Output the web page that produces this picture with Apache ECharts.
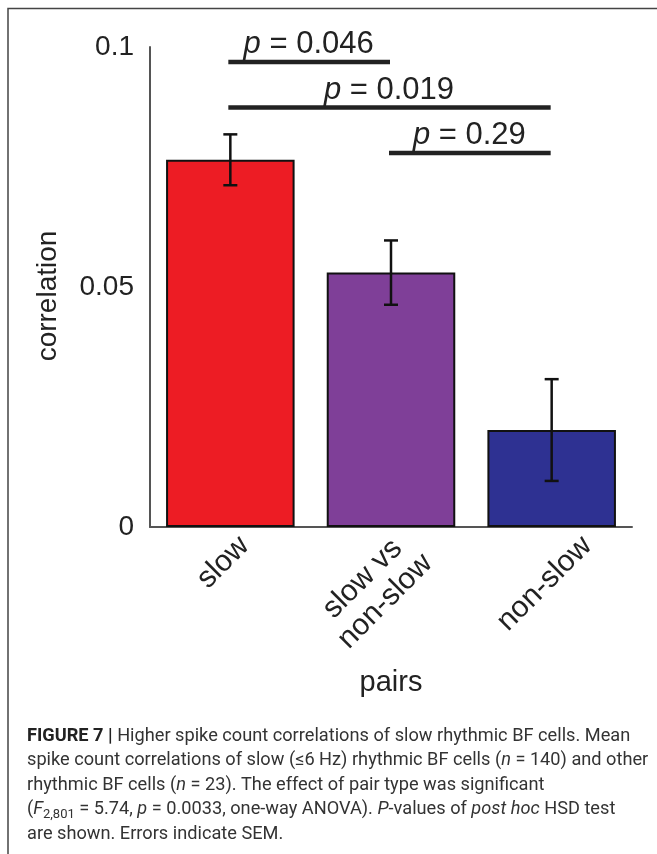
<!DOCTYPE html>
<html>
<head>
<meta charset="utf-8">
<script src="https://cdn.jsdelivr.net/npm/echarts@6/dist/echarts.min.js"></script>
<style>
  html, body { margin: 0; padding: 0; background: #fff; }
  #chart { width: 657px; height: 854px; }
</style>
</head>
<body>
<div id="chart"></div>
<script>
// data
var categories = ["slow", "slow vs\nnon-slow", "non-slow"];
var meanCorr = [0.0765, 0.053, 0.0202];
var semCorr = [0.0053, 0.0067, 0.0106];
var barColors = ["#ED1C24", "#7F3F98", "#2E3192"];
var yTicks = [0, 0.05, 0.1];

// post hoc comparisons: from category, to category, bar height, p
var sigFrom = [0, 0, 1];
var sigTo = [1, 2, 2];
var sigLevel = [0.0969, 0.0874, 0.0779];
var sigP = ["0.046", "0.019", "0.29"];

var captionLines = [
  "{b|FIGURE 7 |} Higher spike count correlations of slow rhythmic BF cells. Mean",
  "spike count correlations of slow (≤6 Hz) rhythmic BF cells ({i|n} = 140) and other",
  "rhythmic BF cells ({i|n} = 23). The effect of pair type was significant",
  "({i|F}{s|2,801} = 5.74, {i|p} = 0.0033, one-way ANOVA). {i|P}-values of {i|post hoc} HSD test",
  "are shown. Errors indicate SEM."
];

var font = "Liberation Sans, Arial, sans-serif";
var capFont = "Roboto, Liberation Sans, sans-serif";
var capSize = 18.2;
var catSize = 30;
var catLH = 32;

var chart = echarts.init(document.getElementById("chart"));

// rotated tick labels like matlab: bounding box roughly centred under the tick, top just below the axis
var ctx = document.createElement("canvas").getContext("2d");
ctx.font = catSize + "px 'Liberation Sans'";
var catRich = {};
categories.forEach(function (c, idx) {
  var lines = c.split("\n");
  var L = Math.max.apply(null, lines.map(function (s) { return ctx.measureText(s).width; }));
  var H = lines.length * catLH;
  var a = (3 + (L + H) / (2 * Math.SQRT2)) / Math.SQRT2;
  var dx = lines.length > 1 ? -17 : -7;
  var dy = lines.length > 1 ? -5 : 0;
  var u = -a + (dx - dy) / Math.SQRT2;
  var n = a + (dx + dy) / Math.SQRT2;
  var padR = Math.max(0, -2 * u);
  catRich["t" + idx] = {
    fontSize: catSize, fontFamily: font, color: "#222", lineHeight: catLH,
    width: L, align: "center", padding: [0, padR, 0, 0]
  };
  catRich["s" + idx] = {
    fontSize: 4, lineHeight: Math.max(1, 2 * n), height: Math.max(1, 2 * n),
    width: L, padding: [0, padR, 0, 0]
  };
});

var capRich = {
  b: { fontWeight: "bold", fontSize: capSize, fontFamily: capFont, fill: "#222" },
  i: { fontStyle: "italic", fontSize: capSize, fontFamily: capFont, fill: "#333" },
  s: { fontSize: 13, fontFamily: capFont, fill: "#333", padding: [11, 0, 0, 0] }
};
var captionGraphics = captionLines.map(function (line, k) {
  return {
    type: "text",
    left: 27,
    top: 727 + k * 24.5,
    style: {
      text: line,
      fontSize: capSize,
      fontFamily: capFont,
      fill: "#333",
      rich: capRich
    }
  };
});

var option = {
  animation: false,
  backgroundColor: "#fff",
  grid: { left: 150, right: 25, top: 47, bottom: 327, containLabel: false, outerBoundsMode: "none" },
  xAxis: {
    type: "category",
    data: categories,
    name: "pairs",
    nameLocation: "middle",
    nameGap: 141,
    nameTextStyle: { fontSize: 29, color: "#222", fontFamily: font },
    axisLine: { lineStyle: { color: "#555", width: 2 } },
    axisTick: { inside: true, alignWithLabel: true, length: 5, lineStyle: { color: "#555", width: 2 } },
    axisLabel: {
      interval: 0,
      rotate: 45,
      align: "center",
      verticalAlign: "middle",
      margin: 0,
      hideOverlap: false,
      fontSize: catSize,
      color: "#222",
      fontFamily: font,
      formatter: function (v, idx) {
        return ["{s" + idx + "| }"].concat(v.split("\n").map(function (s) {
          return "{t" + idx + "|" + s + "}";
        })).join("\n");
      },
      rich: catRich
    }
  },
  yAxis: {
    type: "value",
    min: 0,
    max: 0.1,
    interval: 0.05,
    name: "correlation",
    nameLocation: "middle",
    nameGap: 88,
    nameRotate: 90,
    nameTextStyle: { fontSize: 28, color: "#222", fontFamily: font, padding: [0, 18, 0, 0] },
    splitLine: { show: false },
    axisLine: { show: true, lineStyle: { color: "#555", width: 2 } },
    axisTick: { inside: true, length: 6, lineStyle: { color: "#555", width: 2 } },
    axisLabel: {
      fontSize: 28,
      color: "#222",
      fontFamily: font,
      margin: 16,
      formatter: function (v) {
        return yTicks.indexOf(v) >= 0 ? String(v) : "";
      }
    }
  },
  series: [
    {
      type: "bar",
      barWidth: "80%",
      data: meanCorr.map(function (v, i) {
        return { value: v, itemStyle: { color: barColors[i] } };
      }),
      itemStyle: { borderColor: "#111", borderWidth: 2 },
      z: 2
    },
    {
      type: "custom",
      z: 5,
      data: meanCorr.map(function (v, i) {
        return [i, v + semCorr[i], v - semCorr[i]];
      }),
      renderItem: function (params, api) {
        var hi = api.coord([api.value(0), api.value(1)]);
        var lo = api.coord([api.value(0), api.value(2)]);
        var hw = 7;
        var st = { stroke: "#111", lineWidth: 2.5 };
        return {
          type: "group",
          children: [
            { type: "line", shape: { x1: hi[0], y1: hi[1], x2: lo[0], y2: lo[1] }, style: st },
            { type: "line", shape: { x1: hi[0] - hw, y1: hi[1], x2: hi[0] + hw, y2: hi[1] }, style: st },
            { type: "line", shape: { x1: lo[0] - hw, y1: lo[1], x2: lo[0] + hw, y2: lo[1] }, style: st }
          ]
        };
      }
    },
    {
      type: "custom",
      z: 6,
      data: sigFrom.map(function (f, k) {
        return [f, sigTo[k], sigLevel[k], k];
      }),
      renderItem: function (params, api) {
        var k = api.value(3);
        var a = api.coord([api.value(0), api.value(2)]);
        var b = api.coord([api.value(1), api.value(2)]);
        return {
          type: "group",
          children: [
            {
              type: "line",
              shape: { x1: a[0] - 2, y1: a[1], x2: b[0] - 1, y2: b[1] },
              style: { stroke: "#222", lineWidth: 4.5 }
            },
            {
              type: "text",
              x: (a[0] + b[0]) / 2 - 2,
              y: a[1] - 2,
              style: {
                text: "{i|p} = " + sigP[k],
                fontSize: 31,
                fontFamily: font,
                fill: "#222",
                align: "center",
                verticalAlign: "bottom",
                rich: {
                  i: { fontStyle: "italic", fontSize: 31, fontFamily: font, fill: "#222" }
                }
              }
            }
          ]
        };
      }
    }
  ],
  graphic: [
    {
      type: "polyline",
      shape: { points: [[8, 854], [8, 8.5], [657, 8.5]] },
      style: { stroke: "#444", lineWidth: 1.5, fill: null }
    }
  ].concat(captionGraphics)
};

chart.setOption(option);
</script>
</body>
</html>
